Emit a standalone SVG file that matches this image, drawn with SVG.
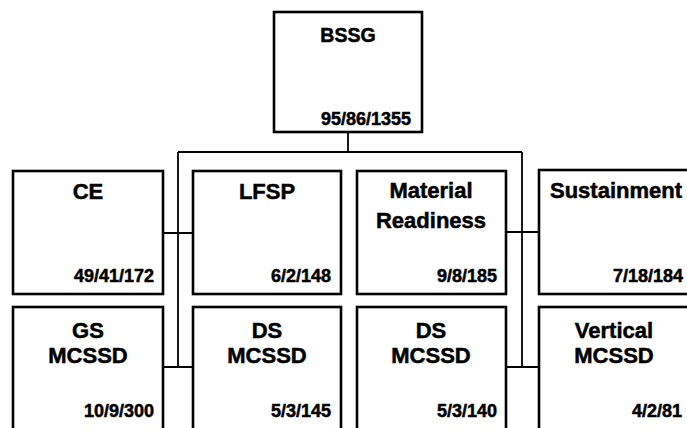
<svg xmlns="http://www.w3.org/2000/svg" width="687" height="428" viewBox="0 0 687 428">
<style>
.box{fill:#fff;stroke:#000;stroke-width:2.6}
.con{fill:none;stroke:#000;stroke-width:1.8}
text{font-family:"Liberation Sans",Arial,sans-serif;font-weight:bold;fill:#000;stroke:#000;stroke-width:0.5}
.t{font-size:22px;text-anchor:middle}
.n{font-size:18px;text-anchor:end}
</style>
<rect width="687" height="428" fill="#fff"/>
<g id="connectors">
<path class="con" d="M348 132 V152 M178 152 H522 M178 152 V367 M522 152 V367 M163 233 H193 M506 232 H539 M163 367 H193 M506 367 H539"/>
</g>
<g id="bssg">
<rect class="box" x="274" y="12" width="148" height="120"/>
<text class="t" x="348" y="42" style="font-size:19.5px">BSSG</text>
<text class="n" x="411" y="125">95/86/1355</text>
</g>
<g id="ce">
<rect class="box" x="13" y="171" width="150" height="123"/>
<text class="t" x="88" y="199">CE</text>
<text class="n" x="154" y="282">49/41/172</text>
</g>
<g id="lfsp">
<rect class="box" x="193" y="171" width="148" height="123"/>
<text class="t" x="267" y="199">LFSP</text>
<text class="n" x="331" y="282">6/2/148</text>
</g>
<g id="material-readiness">
<rect class="box" x="357" y="171" width="149" height="123"/>
<text class="t" x="431" y="198">Material</text>
<text class="t" x="431" y="228">Readiness</text>
<text class="n" x="497" y="282">9/8/185</text>
</g>
<g id="sustainment">
<rect class="box" x="539" y="170" width="152" height="124"/>
<text class="t" x="616" y="198">Sustainment</text>
<text class="n" x="683" y="282">7/18/184</text>
</g>
<g id="gs-mcssd">
<rect class="box" x="13" y="307" width="150" height="135"/>
<text class="t" x="88" y="338">GS</text>
<text class="t" x="88" y="363">MCSSD</text>
<text class="n" x="154" y="417">10/9/300</text>
</g>
<g id="ds-mcssd-1">
<rect class="box" x="193" y="307" width="148" height="135"/>
<text class="t" x="267" y="338">DS</text>
<text class="t" x="267" y="363">MCSSD</text>
<text class="n" x="331" y="417">5/3/145</text>
</g>
<g id="ds-mcssd-2">
<rect class="box" x="357" y="307" width="149" height="135"/>
<text class="t" x="431" y="338">DS</text>
<text class="t" x="431" y="363">MCSSD</text>
<text class="n" x="497" y="417">5/3/140</text>
</g>
<g id="vertical-mcssd">
<rect class="box" x="539" y="307" width="152" height="135"/>
<text class="t" x="614" y="338">Vertical</text>
<text class="t" x="614" y="363">MCSSD</text>
<text class="n" x="682" y="417">4/2/81</text>
</g>
</svg>
